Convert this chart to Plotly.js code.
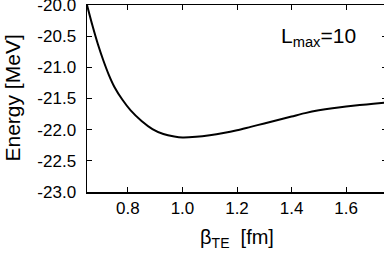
<!DOCTYPE html>
<html><head><meta charset="utf-8">
<script src="https://cdn.plot.ly/plotly-3.0.1.min.js"></script>
<style>html,body{margin:0;padding:0;overflow:hidden;background:#fff;}</style>
</head><body>
<div id="chart" style="width:387px;height:256px;"></div>
<script>
// beta_TE [fm]
const betaTE = [0.65, 0.67, 0.69, 0.71, 0.73, 0.75, 0.78, 0.81, 0.85, 0.89, 0.93, 0.97, 1.00, 1.05, 1.10, 1.15, 1.20, 1.25, 1.30, 1.35, 1.40, 1.45, 1.50, 1.55, 1.60, 1.65, 1.70, 1.75];
// Energy [MeV]
const energy = [-20.00, -20.33, -20.63, -20.89, -21.12, -21.31, -21.52, -21.69, -21.86, -21.99, -22.07, -22.11, -22.125, -22.115, -22.09, -22.055, -22.01, -21.955, -21.90, -21.845, -21.79, -21.735, -21.69, -21.655, -21.628, -21.605, -21.585, -21.565];
const xTickVals = [0.8, 1.0, 1.2, 1.4, 1.6];
const xTickText = ["0.8", "1.0", "1.2", "1.4", "1.6"];
const yTickVals = [-20.0, -20.5, -21.0, -21.5, -22.0, -22.5, -23.0];
const yTickText = ["-20.0", "-20.5", "-21.0", "-21.5", "-22.0", "-22.5", "-23.0"];

const font = "Liberation Sans, Arial, sans-serif";
const trace = {
  x: betaTE, y: energy, type: "scatter", mode: "lines",
  line: {color: "#000", width: 2, shape: "spline", smoothing: 0.8},
  hoverinfo: "skip"
};
const layout = {
  width: 387, height: 256,
  margin: {l: 87, r: 0, t: 5, b: 64},
  paper_bgcolor: "#fff", plot_bgcolor: "#fff",
  showlegend: false,
  font: {family: font, color: "#000"},
  xaxis: {
    range: [0.65, 1.75], tickvals: xTickVals, ticktext: xTickText,
    ticks: "inside", ticklen: 5, tickwidth: 1, tickcolor: "#000",
    showline: true, linecolor: "#000", linewidth: 1.5, mirror: "ticks",
    showgrid: false, zeroline: false, ticklabeloverflow: "allow",
    tickfont: {family: font, size: 17, color: "#000"},
    title: {text: "β<sub>TE</sub>  [fm]", font: {family: font, size: 20, color: "#000"}, standoff: 13}
  },
  yaxis: {
    range: [-23.0, -20.0], tickvals: yTickVals, ticktext: yTickText,
    ticks: "inside", ticklen: 5, tickwidth: 1, tickcolor: "#000",
    showline: true, linecolor: "#000", linewidth: 1.5, mirror: "ticks",
    showgrid: false, zeroline: false, ticklabeloverflow: "allow",
    tickfont: {family: font, size: 17, color: "#000"},
    ticklabelstandoff: 6
  },
  annotations: [{
    x: 1.497, y: -20.51, xref: "x", yref: "y",
    text: "L<sub>max</sub>=10", showarrow: false,
    font: {family: font, size: 21, color: "#000"}
  }, {
    x: -0.25, y: 0.5, xref: "paper", yref: "paper",
    xanchor: "center", yanchor: "middle", textangle: -90,
    text: "Energy [MeV]", showarrow: false,
    font: {family: font, size: 21, color: "#000"}
  }]
};
Plotly.newPlot("chart", [trace], layout, {staticPlot: true, displayModeBar: false});
</script>
</body></html>
